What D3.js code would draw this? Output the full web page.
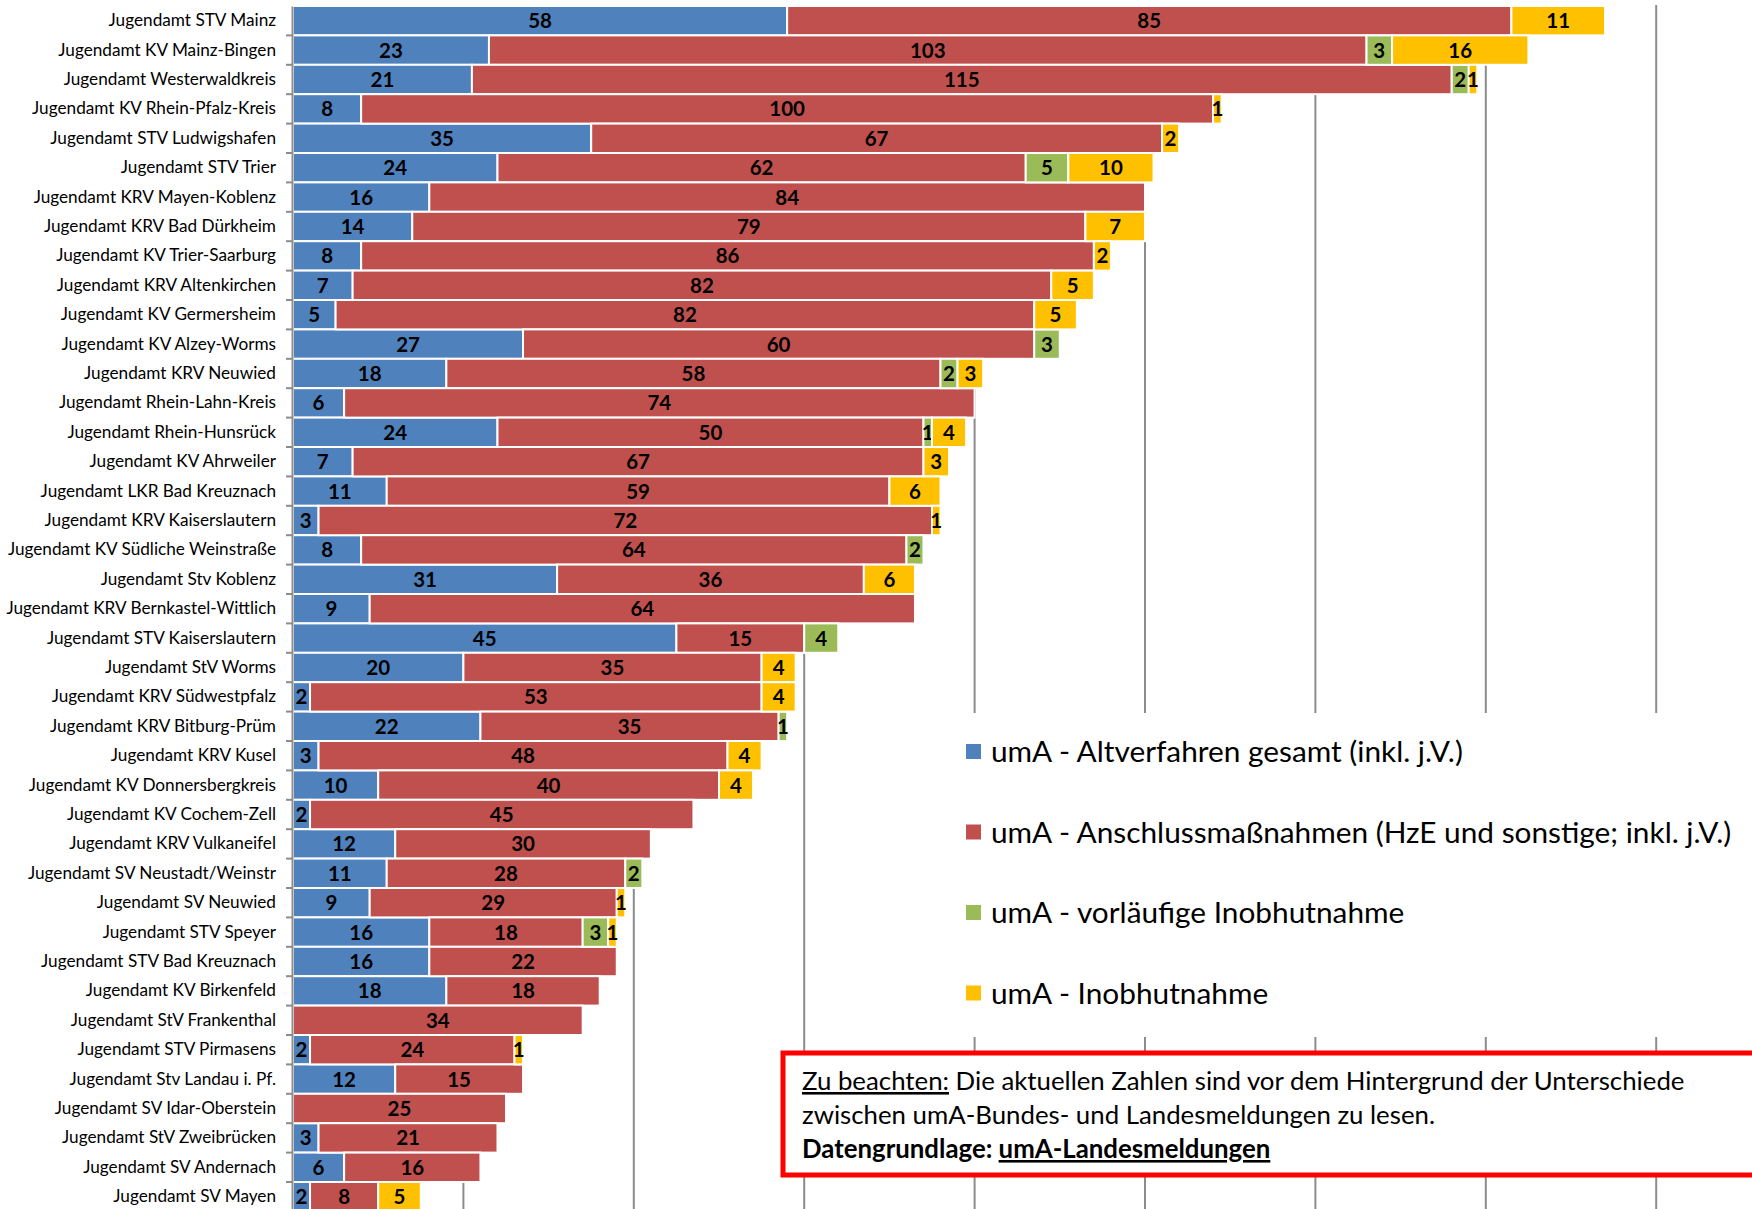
<!DOCTYPE html>
<html>
<head>
<meta charset="utf-8">
<script src="https://cdn.jsdelivr.net/npm/d3@7"></script>
<style>
	body { margin: 0; background: #fff; }
	svg { display: block; font-family: Lato, "Open Sans", sans-serif; }
</style>
</head>
<body>
<div id="chart"></div>
<script>
const width = 1752;
const height = 1209;

const categories = [
	"Jugendamt STV Mainz",
	"Jugendamt KV Mainz-Bingen",
	"Jugendamt Westerwaldkreis",
	"Jugendamt KV Rhein-Pfalz-Kreis",
	"Jugendamt STV Ludwigshafen",
	"Jugendamt STV Trier",
	"Jugendamt KRV Mayen-Koblenz",
	"Jugendamt KRV Bad Dürkheim",
	"Jugendamt KV Trier-Saarburg",
	"Jugendamt KRV Altenkirchen",
	"Jugendamt KV Germersheim",
	"Jugendamt KV Alzey-Worms",
	"Jugendamt KRV Neuwied",
	"Jugendamt Rhein-Lahn-Kreis",
	"Jugendamt Rhein-Hunsrück",
	"Jugendamt KV Ahrweiler",
	"Jugendamt LKR Bad Kreuznach",
	"Jugendamt KRV Kaiserslautern",
	"Jugendamt KV Südliche Weinstraße",
	"Jugendamt Stv Koblenz",
	"Jugendamt KRV Bernkastel-Wittlich",
	"Jugendamt STV Kaiserslautern",
	"Jugendamt StV Worms",
	"Jugendamt KRV Südwestpfalz",
	"Jugendamt KRV Bitburg-Prüm",
	"Jugendamt KRV Kusel",
	"Jugendamt KV Donnersbergkreis",
	"Jugendamt KV Cochem-Zell",
	"Jugendamt KRV Vulkaneifel",
	"Jugendamt SV Neustadt/Weinstr",
	"Jugendamt SV Neuwied",
	"Jugendamt STV Speyer",
	"Jugendamt STV Bad Kreuznach",
	"Jugendamt KV Birkenfeld",
	"Jugendamt StV Frankenthal",
	"Jugendamt STV Pirmasens",
	"Jugendamt Stv Landau i. Pf.",
	"Jugendamt SV Idar-Oberstein",
	"Jugendamt StV Zweibrücken",
	"Jugendamt SV Andernach",
	"Jugendamt SV Mayen",
];

const altverfahren = [58, 23, 21, 8, 35, 24, 16, 14, 8, 7, 5, 27, 18, 6, 24, 7, 11, 3, 8, 31, 9, 45, 20, 2, 22, 3, 10, 2, 12, 11, 9, 16, 16, 18, 0, 2, 12, 0, 3, 6, 2];
const anschluss = [85, 103, 115, 100, 67, 62, 84, 79, 86, 82, 82, 60, 58, 74, 50, 67, 59, 72, 64, 36, 64, 15, 35, 53, 35, 48, 40, 45, 30, 28, 29, 18, 22, 18, 34, 24, 15, 25, 21, 16, 8];
const vorlaeufig = [0, 3, 2, 0, 0, 5, 0, 0, 0, 0, 0, 3, 2, 0, 1, 0, 0, 0, 2, 0, 0, 4, 0, 0, 1, 0, 0, 0, 0, 2, 0, 3, 0, 0, 0, 0, 0, 0, 0, 0, 0];
const inobhut = [11, 16, 1, 1, 2, 10, 0, 7, 2, 5, 5, 0, 3, 0, 4, 3, 6, 1, 0, 6, 0, 0, 4, 4, 0, 4, 4, 0, 0, 0, 1, 1, 0, 0, 0, 1, 0, 0, 0, 0, 5];

const seriesNames = [
	"umA - Altverfahren gesamt (inkl. j.V.)",
	"umA - Anschlussmaßnahmen (HzE und sonstige; inkl. j.V.)",
	"umA - vorläufige Inobhutnahme",
	"umA - Inobhutnahme",
];
const seriesColors = ["#4F81BD", "#C0504D", "#9BBB59", "#FFC000"];
const gridTicks = [20, 40, 60, 80, 100, 120, 140, 160];

// table for the stack
const rows = categories.map((c, i) => ({
	name: c,
	s0: altverfahren[i],
	s1: anschluss[i],
	s2: vorlaeufig[i],
	s3: inobhut[i],
}));

const svg = d3.select("#chart").append("svg").attr("width", width).attr("height", height);

const x = d3.scaleLinear().domain([0, 180]).range([293, 293 + 180 * 8.52]);
const y = d3.scaleBand().domain(categories).range([6, 6 + categories.length * 29.4]).padding(0);

// gridlines (behind bars)
svg.append("g")
	.selectAll("line")
	.data(gridTicks)
	.enter()
	.append("line")
	.attr("x1", (d) => x(d))
	.attr("x2", (d) => x(d))
	.attr("y1", 5)
	.attr("y2", height)
	.attr("stroke", "#8c8c8c")
	.attr("stroke-width", 2);

const stack = d3.stack().keys(["s0", "s1", "s2", "s3"]);
const stacked = stack(rows);

const layers = svg.append("g")
	.selectAll("g")
	.data(stacked)
	.enter()
	.append("g")
	.attr("fill", (_d, i) => seriesColors[i]);

layers.selectAll("rect")
	.data((d) => d.filter((p) => p[1] > p[0]))
	.enter()
	.append("rect")
	.attr("x", (d) => x(d[0]))
	.attr("y", (d) => y(d.data.name))
	.attr("width", (d) => x(d[1]) - x(d[0]))
	.attr("height", y.bandwidth())
	.attr("stroke", "#fff")
	.attr("stroke-width", 2);

layers.selectAll("text")
	.data((d) => d.filter((p) => p[1] > p[0]))
	.enter()
	.append("text")
	.attr("x", (d) => (x(d[0]) + x(d[1])) / 2)
	.attr("y", (d) => y(d.data.name) + y.bandwidth() / 2)
	.attr("dy", "0.37em")
	.attr("text-anchor", "middle")
	.attr("fill", "#000")
	.attr("font-weight", "bold")
	.attr("font-size", "20.5px")
	.text((d) => d[1] - d[0]);

// category axis
const yAxis = d3.axisLeft(y).tickSize(0).tickPadding(16);
const axisG = svg.append("g").attr("transform", `translate(${x(0) - 1},0)`).call(yAxis);
axisG.select(".domain").attr("stroke", "#8c8c8c").attr("stroke-width", 2);
axisG.selectAll("text").attr("font-size", "17.2px").attr("fill", "#000").attr("font-family", "Lato, sans-serif");
// little tick marks between categories
axisG.append("g")
	.selectAll("line")
	.data(categories.slice(1))
	.enter()
	.append("line")
	.attr("x1", -6)
	.attr("x2", 0)
	.attr("y1", (d) => y(d))
	.attr("y2", (d) => y(d))
	.attr("stroke", "#8c8c8c")
	.attr("stroke-width", 2);

// legend
const legend = svg.append("g");
legend.append("rect")
	.attr("x", 961)
	.attr("y", 713)
	.attr("width", width - 961)
	.attr("height", 324)
	.attr("fill", "#fff");
const legendItems = legend.selectAll("g.item")
	.data(seriesNames)
	.enter()
	.append("g")
	.attr("class", "item")
	.attr("transform", (_d, i) => `translate(966, ${752 + i * 80.5})`);
legendItems.append("rect")
	.attr("x", 0)
	.attr("y", -8)
	.attr("width", 15)
	.attr("height", 15)
	.attr("fill", (_d, i) => seriesColors[i]);
legendItems.append("text")
	.attr("x", 25)
	.attr("dy", "0.35em")
	.attr("font-size", "29.8px")
	.attr("fill", "#000")
	.text((d) => d);

// note box
const note = svg.append("g");
note.append("rect")
	.attr("x", 783)
	.attr("y", 1053)
	.attr("width", 1100)
	.attr("height", 122)
	.attr("fill", "#fff")
	.attr("stroke", "#ff0000")
	.attr("stroke-width", 5);
const noteSize = "25.8px";
const line1 = note.append("text").attr("x", 802).attr("y", 1090).attr("font-size", noteSize).attr("fill", "#000");
line1.append("tspan").attr("text-decoration", "underline").text("Zu beachten:");
line1.append("tspan").text(" Die aktuellen Zahlen sind vor dem Hintergrund der Unterschiede");
note.append("text").attr("x", 802).attr("y", 1124).attr("font-size", noteSize).attr("fill", "#000")
	.text("zwischen umA-Bundes- und Landesmeldungen zu lesen.");
const line3 = note.append("text").attr("x", 802).attr("y", 1158).attr("font-size", noteSize).attr("fill", "#000").attr("font-weight", "bold");
line3.append("tspan").text("Datengrundlage: ");
line3.append("tspan").attr("text-decoration", "underline").text("umA-Landesmeldungen");
</script>
</body>
</html>
